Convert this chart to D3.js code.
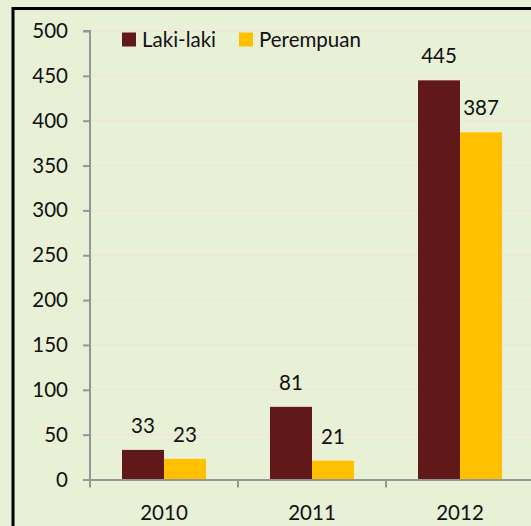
<!DOCTYPE html>
<html>
<head>
<meta charset="utf-8">
<script src="https://cdn.jsdelivr.net/npm/d3@7"></script>
<style>
  html, body { margin: 0; padding: 0; background: #e8f0d6; overflow: hidden; }
  svg text { font-family: Lato, "Open Sans", sans-serif; fill: #111; }
</style>
</head>
<body>
<div id="chart"></div>
<script>
// chart data
const years = ['2010', '2011', '2012'];
const series = ['Laki-laki', 'Perempuan'];
const laki = [33, 81, 445];
const perempuan = [23, 21, 387];
const yTicks = [0, 50, 100, 150, 200, 250, 300, 350, 400, 450, 500];
const colors = ['#601819', '#ffc000'];

const W = 531, H = 526;
const margin = {top: 31, left: 90};
const plotW = 444;   // runs past the right edge, as in the original
const plotH = 448.5;
const fs = '20.5px';

const svg = d3.select('#chart').append('svg')
  .attr('width', W)
  .attr('height', H);

svg.append('rect')
  .attr('width', W).attr('height', H)
  .attr('fill', '#e8f0d6');

// frame (only left and top edges are visible)
svg.append('rect')
  .attr('x', 13).attr('y', 8.5)
  .attr('width', 600).attr('height', 600)
  .attr('fill', 'none')
  .attr('stroke', '#000')
  .attr('stroke-width', 3);

const g = svg.append('g')
  .attr('transform', `translate(${margin.left} ${margin.top})`);

const x0 = d3.scaleBand().domain(years).range([0, plotW]);
const x1 = d3.scaleBand().domain(series).range([0, x0.bandwidth()])
  .paddingInner(0).paddingOuter(0.762);
const y = d3.scaleLinear().domain([0, 500]).range([plotH, 0]);

// gridlines
g.append('g')
  .selectAll('line')
  .data(yTicks.filter(d => d > 0))
  .join('line')
    .attr('x1', 1).attr('x2', 600)
    .attr('y1', d => y(d)).attr('y2', d => y(d))
    .attr('stroke', '#efe6dc')
    .attr('stroke-width', 2);

// bars
const rows = years.map((yr, i) => ({year: yr, vals: [laki[i], perempuan[i]]}));
const groups = g.selectAll('g.yr')
  .data(rows)
  .join('g')
    .attr('class', 'yr')
    .attr('transform', d => `translate(${x0(d.year)} 0)`);

groups.selectAll('rect')
  .data(d => d.vals.map((v, j) => ({s: series[j], v, j})))
  .join('rect')
    .attr('x', d => x1(d.s))
    .attr('width', x1.bandwidth())
    .attr('y', d => y(d.v))
    .attr('height', d => plotH - y(d.v))
    .attr('fill', d => colors[d.j]);

groups.selectAll('text')
  .data(d => d.vals.map((v, j) => ({s: series[j], v})))
  .join('text')
    .attr('x', d => x1(d.s) + x1.bandwidth() / 2)
    .attr('y', d => y(d.v) - 17)
    .attr('text-anchor', 'middle')
    .style('font-size', fs)
    .text(d => d.v);

// y axis
const yAxis = g.append('g')
  .call(d3.axisLeft(y).tickValues(yTicks).tickSize(7).tickPadding(15).tickSizeOuter(0));
// x axis
const xAxis = g.append('g')
  .attr('transform', `translate(0 ${plotH})`)
  .call(d3.axisBottom(x0).tickSize(0).tickPadding(26).tickSizeOuter(0));

xAxis.selectAll('line.bound')
  .data([0, ...years.map(yr => x0(yr) + x0.bandwidth())])
  .join('line')
    .attr('class', 'bound')
    .attr('x1', d => d).attr('x2', d => d)
    .attr('y1', 0).attr('y2', 8)
    .attr('stroke', '#969696')
    .attr('stroke-width', 2);

[yAxis, xAxis].forEach(a => {
  a.select('.domain').attr('stroke', '#969696').attr('stroke-width', 2);
  a.selectAll('.tick line').attr('stroke', '#969696').attr('stroke-width', 2);
  a.selectAll('.tick text').style('font-size', fs).attr('fill', '#111');
});
yAxis.select('.domain').attr('d', `M0,${plotH}V0H-7`);

// legend
const legend = g.append('g').attr('transform', 'translate(32 1.5)');
const item = legend.selectAll('g')
  .data(series)
  .join('g')
    .attr('transform', (d, i) => `translate(${i * 117} 0)`);
item.append('rect')
  .attr('width', 14).attr('height', 14)
  .attr('fill', (d, i) => colors[i]);
item.append('text')
  .attr('x', 20).attr('y', 7)
  .attr('dy', '0.35em')
  .style('font-size', fs)
  .text(d => d);
</script>
</body>
</html>
